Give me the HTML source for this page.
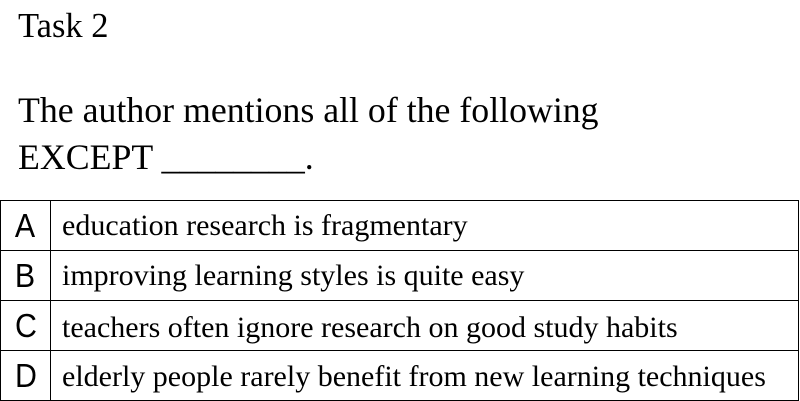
<!DOCTYPE html>
<html><head><meta charset="utf-8"><style>
body{margin:0;width:800px;height:400px;background:#fff;overflow:hidden;position:relative;font-family:"Liberation Serif",serif;color:#000}
.t{position:absolute;white-space:nowrap;line-height:1}
.row{position:absolute;left:0;width:797px;height:49px;border:1px solid #000;border-bottom:none}
.row.last{border-bottom:1px solid #000}
.l{position:absolute;left:0;top:0;width:49px;height:49px;border-right:1px solid #000;display:flex;align-items:center;justify-content:center}
.l span{font-family:"Liberation Sans",sans-serif;font-size:33px;line-height:1;display:inline-block;transform:scaleX(0.92)}
.o{position:absolute;left:61px;top:0;line-height:49px;font-size:30px;white-space:nowrap}
</style></head><body>
<div class="t" style="left:18px;top:9px;font-size:34.5px">Task 2</div>
<div class="t" style="left:18px;top:93px;font-size:35.8px">The author mentions all of the following</div>
<div class="t" style="left:18px;top:140px;font-size:35.8px">EXCEPT ________.</div>
<div class="row" style="top:200px"><div class="l"><span>A</span></div><div class="o">education research is fragmentary</div></div>
<div class="row" style="top:250px"><div class="l"><span>B</span></div><div class="o">improving learning styles is quite easy</div></div>
<div class="row" style="top:300px"><div class="l"><span>C</span></div><div class="o" style="top:2px">teachers often ignore research on good study habits</div></div>
<div class="row last" style="top:350px"><div class="l"><span>D</span></div><div class="o" style="top:1px">elderly people rarely benefit from new learning techniques</div></div>
</body></html>
